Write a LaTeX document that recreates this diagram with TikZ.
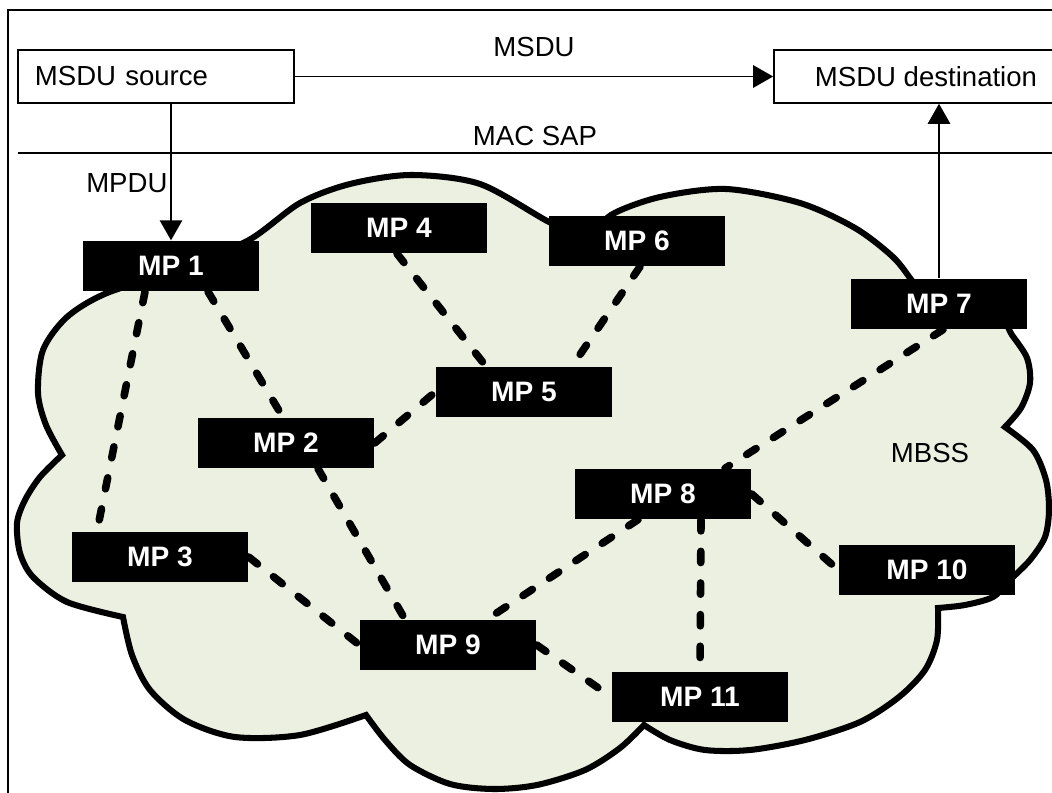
\documentclass[tikz,border=0pt]{standalone}
\usepackage{fontspec}
\setmainfont{Liberation Sans}
\usetikzlibrary{arrows.meta}
\definecolor{meshfill}{RGB}{236,240,225}

\begin{document}
\begin{tikzpicture}[x=0.025cm,y=-0.025cm,
		font=\fontsize{19.6}{23}\selectfont,
		sap/.style={draw,line width=1.1pt,minimum height=1.325cm},
		mp/.style={fill=black,text=white,font=\bfseries\fontsize{20}{24}\selectfont,
			minimum width=4.42cm,minimum height=1.27cm,inner sep=0pt},
		link/.style={line width=5.4pt,line cap=round,dash pattern=on 8pt off 14.5pt},
		flow/.style={line width=1.1pt,-{Triangle[length=0.5cm,width=0.56cm]}}]
		\useasboundingbox (0,0) rectangle (1052,793);
		\draw[line width=1.1pt] (8,793) -- (8,10) -- (1052,10);
		
		\draw (156,76.5) node[sap,text width=6.05cm,inner xsep=0.425cm,align=left] (src) {MSDU source} ;
		\draw (926,76.5) node[sap,minimum width=7.6cm] (dst) {MSDU destination} ;
		\draw[flow] (src.east) -- node[above=0.35cm] {MSDU} (dst.west);
		\draw[line width=1.1pt] (18,153) -- node[above=1pt] {MAC SAP} (1052,153);
		
		% the mesh cloud
		\draw[line width=4.3pt,fill=meshfill]
		plot[smooth] coordinates {(180,270) (249,240) (300,203) (350,184) (411,175) (480,184) (549,222) (590,240)}
		-- plot[smooth] coordinates {(590,240) (611,215) (660,197) (726,189) (800,203) (855,228) (893,257) (913,282) (935,310)}
		-- plot[smooth] coordinates {(935,310) (995,312) (1012,335) (1027,358) (1030,383) (1021,408) (1005,427)}
		-- plot[smooth] coordinates {(1005,427) (1033,450) (1046,480) (1049,510) (1045,537) (1030,560) (1010,580) (993,597) (965,605) (938,608)}
		-- plot[smooth] coordinates {(938,608) (937,640) (925,670) (899,697) (860,722) (805,740) (750,750) (705,750) (670,740) (644,725)}
		-- plot[smooth] coordinates {(644,725) (620,748) (585,770) (537,785) (493,789) (450,784) (410,765) (385,740) (366,715)}
		-- plot[smooth] coordinates {(366,715) (300,735) (235,737) (185,720) (150,690) (132,655) (123,617)}
		-- plot[smooth] coordinates {(123,617) (67,602) (33,577) (20,553) (17,523) (25,500) (40,477) (62,455)}
		-- plot[smooth] coordinates {(62,455) (46,425) (38,393) (43,350) (67,317) (107,293) (180,270)}
		-- cycle;
		\draw (930,453) node (mbss) {MBSS} ;
		
		\draw (171,266) node[mp] (mp1) {MP 1} ;
		\draw (286,443) node[mp] (mp2) {MP 2} ;
		\draw (160,557) node[mp] (mp3) {MP 3} ;
		\draw (399,228) node[mp] (mp4) {MP 4} ;
		\draw (524,392) node[mp] (mp5) {MP 5} ;
		\draw (637,241) node[mp] (mp6) {MP 6} ;
		\draw (939,304) node[mp] (mp7) {MP 7} ;
		\draw (663,494) node[mp] (mp8) {MP 8} ;
		\draw (448,645) node[mp] (mp9) {MP 9} ;
		\draw (927,570) node[mp] (mp10) {MP 10} ;
		\draw (700,697) node[mp] (mp11) {MP 11} ;
		
		\draw[link] ([xshift=-0.65cm]mp1.south) -- ([xshift=-1.575cm]mp3.north);
		\draw[link] ([xshift=0.925cm]mp1.south) -- ([xshift=-0.075cm]mp2.north);
		\draw[link] ([xshift=-0.05cm]mp4.south) -- ([xshift=-0.95cm]mp5.north);
		\draw[link] ([xshift=0.075cm]mp6.south) -- ([xshift=1.2cm]mp5.north);
		\draw[link] (mp2.east) -- (mp5.west);
		\draw[link] ([xshift=0.1cm]mp7.south) -- ([xshift=1.55cm]mp8.north);
		\draw[link] ([xshift=0.8cm]mp2.south) -- ([xshift=-1.075cm]mp9.north);
		\draw[link] (mp3.east) -- (mp9.west);
		\draw[link] ([xshift=-0.625cm]mp8.south) -- ([xshift=0.975cm]mp9.north);
		\draw[link] ([xshift=0.95cm]mp8.south) -- (mp11.north);
		\draw[link] (mp8.east) -- (mp10.west);
		\draw[link] (mp9.east) -- (mp11.west);
		
		\draw[flow] (mp1.north |- src.south) -- node[pos=0.58,left,inner sep=2pt] {MPDU} (mp1.north);
		\draw[flow] (mp7.north) -- (mp7.north |- dst.south);
\end{tikzpicture}
\end{document}
